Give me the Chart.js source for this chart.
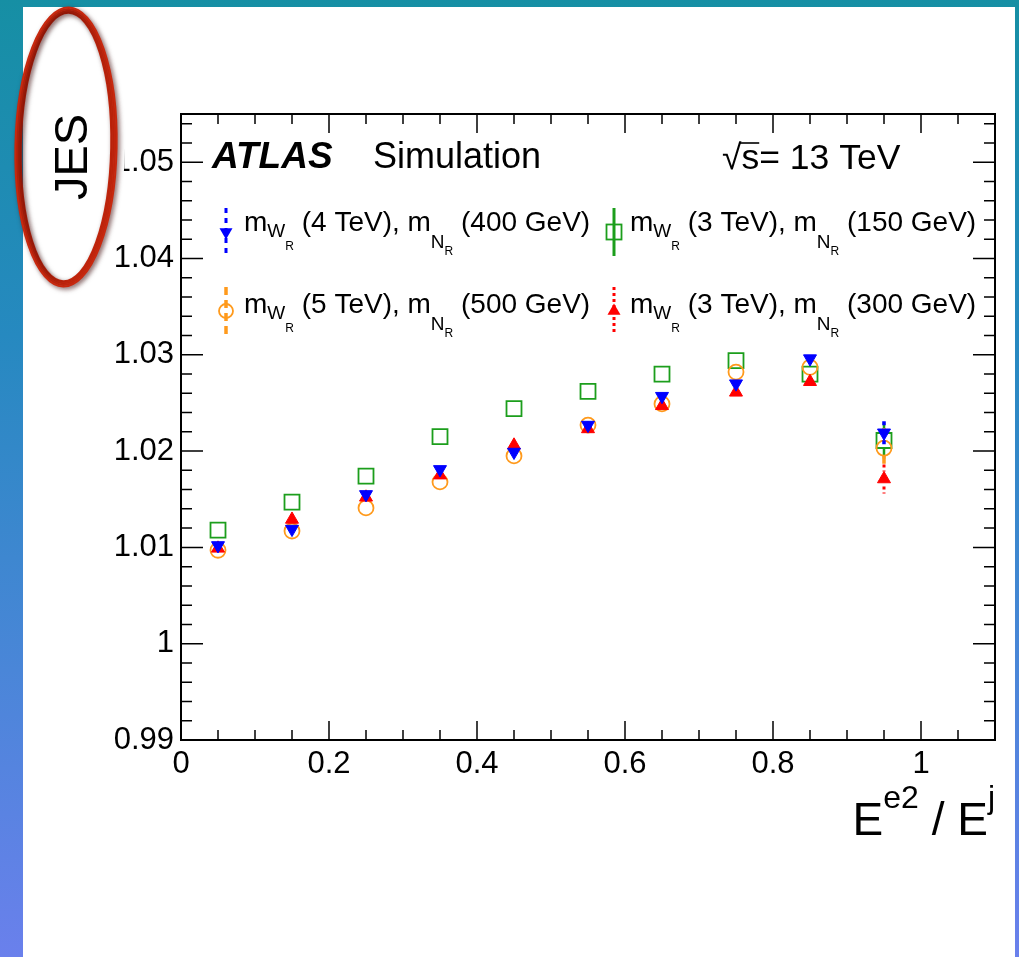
<!DOCTYPE html>
<html>
<head>
<meta charset="utf-8">
<script src="https://cdn.jsdelivr.net/npm/chart.js@4.4.1/dist/chart.umd.min.js"></script>
<style>
  html, body { margin: 0; padding: 0; }
  body {
    width: 1019px; height: 957px; overflow: hidden; position: relative;
    background: linear-gradient(180deg, #168fa4 0%, #2689c0 35%, #4a86d8 70%, #6a80ec 100%);
  }
  #panel { position: absolute; left: 23px; top: 7px; width: 992px; height: 950px; background: #fff; }
  #jes { position: absolute; left: 0; top: 0; }
</style>
</head>
<body>
<div id="panel"></div>
<canvas id="jes" width="1019" height="957"></canvas>
<script>
// Energy fraction of the second electron inside the jet (bin centres)
const binCentres = [0.05, 0.15, 0.25, 0.35, 0.45, 0.55, 0.65, 0.75, 0.85, 0.95];

// Jet energy scale per signal point
const jesW4N400 = [1.0102, 1.0119, 1.0155, 1.0181, 1.0199, 1.0227, 1.0257, 1.0270, 1.0296, 1.0219];
const jesW3N150 = [1.0118, 1.0147, 1.0174, 1.0215, 1.0244, 1.0262, 1.0280, 1.0294, 1.0280, 1.0211];
const jesW5N500 = [1.0097, 1.0117, 1.0141, 1.0168, 1.0195, 1.0227, 1.0249, 1.0282, 1.0287, 1.0203];
const jesW3N300 = [1.0099, 1.0129, 1.0152, 1.0175, 1.0206, 1.0223, 1.0247, 1.0261, 1.0272, 1.0171];

// Statistical uncertainties
const errW4N400 = [0.0003, 0.0003, 0.0003, 0.0003, 0.0003, 0.0003, 0.0003, 0.0004, 0.0004, 0.0012];
const errW3N150 = [0.0003, 0.0003, 0.0003, 0.0003, 0.0003, 0.0003, 0.0003, 0.0004, 0.0004, 0.0019];
const errW5N500 = [0.0003, 0.0003, 0.0003, 0.0003, 0.0003, 0.0003, 0.0003, 0.0004, 0.0004, 0.0021];
const errW3N300 = [0.0003, 0.0003, 0.0003, 0.0003, 0.0003, 0.0003, 0.0003, 0.0004, 0.0004, 0.0015];

// Legend: W_R and N_R masses
const wrMasses = ['4 TeV', '3 TeV', '5 TeV', '3 TeV'];
const nrMasses = ['400 GeV', '150 GeV', '500 GeV', '300 GeV'];

// Axis ticks
const xTickValues = [0, 0.2, 0.4, 0.6, 0.8, 1.0];
const xTickLabels = ['0', '0.2', '0.4', '0.6', '0.8', '1'];
const yTickValues = [0.99, 1.00, 1.01, 1.02, 1.03, 1.04, 1.05];
const yTickLabels = ['0.99', '1', '1.01', '1.02', '1.03', '1.04', '1.05'];

const FONT = '"Liberation Sans", Arial, Helvetica, sans-serif';
const BLUE = '#0000ff', GREEN = '#1c9e1c', ORANGE = '#ff9a1c', RED = '#ff0000';

const toPoints = vals => vals.map((v, i) => ({ x: binCentres[i], y: v }));

const datasets = [
  { label: 'W4N400', data: toPoints(jesW4N400), errors: errW4N400, errDash: [5, 5], errWidth: 3.5, errColor: BLUE,
    pointStyle: 'triangle', pointRotation: 180, pointRadius: 7.5,
    pointBackgroundColor: BLUE, pointBorderColor: BLUE, pointBorderWidth: 1, order: 0 },
  { label: 'W3N300', data: toPoints(jesW3N300), errors: errW3N300, errDash: [3, 3], errWidth: 3, errColor: RED,
    pointStyle: 'triangle', pointRotation: 0, pointRadius: 7.5,
    pointBackgroundColor: RED, pointBorderColor: RED, pointBorderWidth: 1, order: 1 },
  { label: 'W5N500', data: toPoints(jesW5N500), errors: errW5N500, errDash: [8, 5], errWidth: 3.5, errColor: ORANGE,
    pointStyle: 'circle', pointRadius: 7.5,
    pointBackgroundColor: 'rgba(0,0,0,0)', pointBorderColor: ORANGE, pointBorderWidth: 1.8, order: 2 },
  { label: 'W3N150', data: toPoints(jesW3N150), errors: errW3N150, errDash: [], errWidth: 2.5, errColor: GREEN,
    pointStyle: 'rect', pointRadius: 10.6,
    pointBackgroundColor: 'rgba(0,0,0,0)', pointBorderColor: GREEN, pointBorderWidth: 1.8, order: 3 }
];

// vertical error bars underneath each dataset's markers, leaving the marker itself clear
const MARKER_GAP = 7.5;
const errorBars = {
  id: 'errorBars',
  beforeDatasetDraw(chart, args) {
    const ds = chart.data.datasets[args.index];
    const { ctx, scales: { x, y } } = chart;
    ctx.save();
    ctx.strokeStyle = ds.errColor;
    ctx.lineWidth = ds.errWidth;
    ctx.setLineDash(ds.errDash);
    ds.data.forEach((p, i) => {
      const px = x.getPixelForValue(p.x);
      const pc = y.getPixelForValue(p.y);
      const top = y.getPixelForValue(p.y + ds.errors[i]);
      const bot = y.getPixelForValue(p.y - ds.errors[i]);
      ctx.beginPath();
      if (pc - top > MARKER_GAP) { ctx.moveTo(px, top); ctx.lineTo(px, pc - MARKER_GAP); }
      if (bot - pc > MARKER_GAP) { ctx.moveTo(px, pc + MARKER_GAP); ctx.lineTo(px, bot); }
      ctx.stroke();
    });
    ctx.restore();
  }
};

function richText(ctx, x, y, parts) {
  for (const p of parts) {
    ctx.font = `${p.style || ''} ${p.size}px ${FONT}`;
    ctx.fillText(p.t, x, y + (p.dy || 0));
    x += ctx.measureText(p.t).width;
  }
  return x;
}

function textWidth(ctx, parts) {
  let w = 0;
  for (const p of parts) {
    ctx.font = `${p.style || ''} ${p.size}px ${FONT}`;
    w += ctx.measureText(p.t).width;
  }
  return w;
}

function drawMarker(ctx, style, x, y) {
  ctx.save();
  if (style === 'down' || style === 'up') {
    const r = 7.5, s = style === 'down' ? -1 : 1;
    ctx.fillStyle = style === 'down' ? BLUE : RED;
    ctx.beginPath();
    ctx.moveTo(x, y - s * r);
    ctx.lineTo(x + r * 0.866, y + s * r / 2);
    ctx.lineTo(x - r * 0.866, y + s * r / 2);
    ctx.closePath();
    ctx.fill();
  } else if (style === 'circle') {
    ctx.strokeStyle = ORANGE; ctx.lineWidth = 1.8;
    ctx.beginPath(); ctx.arc(x, y, 7, 0, Math.PI * 2); ctx.stroke();
  } else {
    ctx.strokeStyle = GREEN; ctx.lineWidth = 1.8;
    ctx.strokeRect(x - 7.5, y - 7.5, 15, 15);
  }
  ctx.restore();
}

const decorations = {
  id: 'decorations',
  afterDraw(chart) {
    const { ctx, chartArea: a, scales: { x, y } } = chart;
    ctx.save();

    // frame
    ctx.strokeStyle = '#000';
    ctx.lineWidth = 2;
    ctx.strokeRect(a.left, a.top, a.right - a.left, a.bottom - a.top);

    // inside ticks on all four sides
    ctx.lineWidth = 1.5;
    ctx.beginPath();
    for (let i = 1; i < 22; i++) {
      const px = x.getPixelForValue(i * 0.05);
      const len = i % 4 === 0 ? 19 : 10;
      ctx.moveTo(px, a.bottom); ctx.lineTo(px, a.bottom - len);
      ctx.moveTo(px, a.top); ctx.lineTo(px, a.top + len);
    }
    for (let i = 1; i <= 32; i++) {
      const py = y.getPixelForValue(0.99 + i * 0.002);
      const len = i % 5 === 0 ? 22 : 11;
      ctx.moveTo(a.left, py); ctx.lineTo(a.left + len, py);
      ctx.moveTo(a.right, py); ctx.lineTo(a.right - len, py);
    }
    ctx.stroke();

    ctx.fillStyle = '#000';
    ctx.textAlign = 'left';
    ctx.textBaseline = 'alphabetic';

    // ATLAS Simulation label
    richText(ctx, 212, 168, [{ t: 'ATLAS', size: 37, style: 'italic bold' }]);
    richText(ctx, 373, 168, [{ t: 'Simulation', size: 36 }]);

    // centre-of-mass energy
    ctx.font = `35.5px ${FONT}`;
    const rx = 722;
    ctx.fillText('\u221A', rx, 169);
    const rw = ctx.measureText('\u221A').width;
    ctx.fillText('s= 13 TeV', rx + rw, 169);
    const sw = ctx.measureText('s').width;
    ctx.lineWidth = 1.6;
    ctx.beginPath();
    ctx.moveTo(rx + rw - 2, 143); ctx.lineTo(rx + rw + sw, 143);
    ctx.stroke();

    // legend, two columns
    const markers = ['down', 'square', 'circle', 'up'];
    const lineStyles = [
      { c: BLUE, d: [5, 5], w: 3 }, { c: GREEN, d: [], w: 3 },
      { c: ORANGE, d: [8, 5], w: 3.5 }, { c: RED, d: [3, 3], w: 3 }
    ];
    const colX = [226, 614], textX = [244, 630], rowY = [232, 311], baseY = [231, 313];
    for (let k = 0; k < 4; k++) {
      const col = k % 2, row = Math.floor(k / 2);
      const mx = colX[col], my = rowY[row];
      const ls = lineStyles[k];
      ctx.save();
      ctx.strokeStyle = ls.c; ctx.lineWidth = ls.w; ctx.setLineDash(ls.d);
      ctx.beginPath(); ctx.moveTo(mx, my - 24); ctx.lineTo(mx, my + 24); ctx.stroke();
      ctx.restore();
      drawMarker(ctx, markers[k], mx, my);
      ctx.fillStyle = '#000';
      richText(ctx, textX[col], baseY[row], [
        { t: 'm', size: 28 },
        { t: 'W', size: 19, dy: 6 },
        { t: 'R', size: 12, dy: 19 },
        { t: ` (${wrMasses[k]}), m`, size: 28 },
        { t: 'N', size: 19, dy: 17 },
        { t: 'R', size: 12, dy: 24 },
        { t: ` (${nrMasses[k]})`, size: 28 }
      ]);
    }

    // x axis title, right aligned
    const xTitle = [
      { t: 'E', size: 46 }, { t: 'e2', size: 32, dy: -27 },
      { t: ' / E', size: 46 }, { t: 'j', size: 32, dy: -27 }
    ];
    richText(ctx, a.right - textWidth(ctx, xTitle), 835, xTitle);

    // y axis title
    ctx.save();
    ctx.translate(87, 157);
    ctx.rotate(-Math.PI / 2);
    ctx.textAlign = 'center';
    ctx.font = `47px ${FONT}`;
    ctx.fillText('JES', 0, 0);
    ctx.restore();

    // hand-drawn red ring around the y title, pasted with a white margin on its right side
    ctx.save();
    ctx.beginPath();
    ctx.rect(96, 0, 60, 300);
    ctx.clip();
    ctx.strokeStyle = '#fff';
    ctx.lineWidth = 22;
    ctx.beginPath();
    ctx.ellipse(66, 147, 48, 137, 0.02, 0, Math.PI * 2);
    ctx.stroke();
    ctx.restore();

    ctx.save();
    ctx.shadowColor = 'rgba(60,0,0,0.55)';
    ctx.shadowBlur = 5;
    ctx.shadowOffsetX = 2;
    ctx.shadowOffsetY = 2;
    ctx.strokeStyle = '#c8280e';
    const rings = [[-2.5, 2.6], [-0.8, 2.2], [0.9, 2.4], [2.6, 2.0]];
    for (const [d, w] of rings) {
      ctx.lineWidth = w;
      ctx.beginPath();
      ctx.ellipse(66, 147, 48 + d, 137 + d, 0.02, 0, Math.PI * 2);
      ctx.stroke();
    }
    ctx.restore();

    ctx.restore();
  }
};

new Chart(document.getElementById('jes'), {
  type: 'scatter',
  data: { datasets },
  options: {
    responsive: false,
    animation: false,
    devicePixelRatio: 1,
    layout: { padding: { left: 0, top: 114, right: 24, bottom: 157 } },
    plugins: { legend: { display: false }, tooltip: { enabled: false } },
    scales: {
      x: {
        type: 'linear', min: 0, max: 1.1,
        afterFit: s => { s.height = 60; },
        afterBuildTicks: s => { s.ticks = xTickValues.map(v => ({ value: v })); },
        grid: { display: false, drawTicks: false },
        border: { display: false },
        ticks: {
          callback: (v, i) => xTickLabels[i],
          font: { family: FONT, size: 31 }, color: '#000',
          padding: 6, maxRotation: 0, autoSkip: false
        }
      },
      y: {
        type: 'linear', min: 0.99, max: 1.055,
        afterFit: s => { s.width = 181; },
        afterBuildTicks: s => { s.ticks = yTickValues.map(v => ({ value: v })); },
        grid: { display: false, drawTicks: false },
        border: { display: false },
        ticks: {
          callback: (v, i) => yTickLabels[i],
          font: { family: FONT, size: 31 }, color: '#000',
          padding: 7, autoSkip: false
        }
      }
    }
  },
  plugins: [errorBars, decorations]
});
</script>
</body>
</html>
